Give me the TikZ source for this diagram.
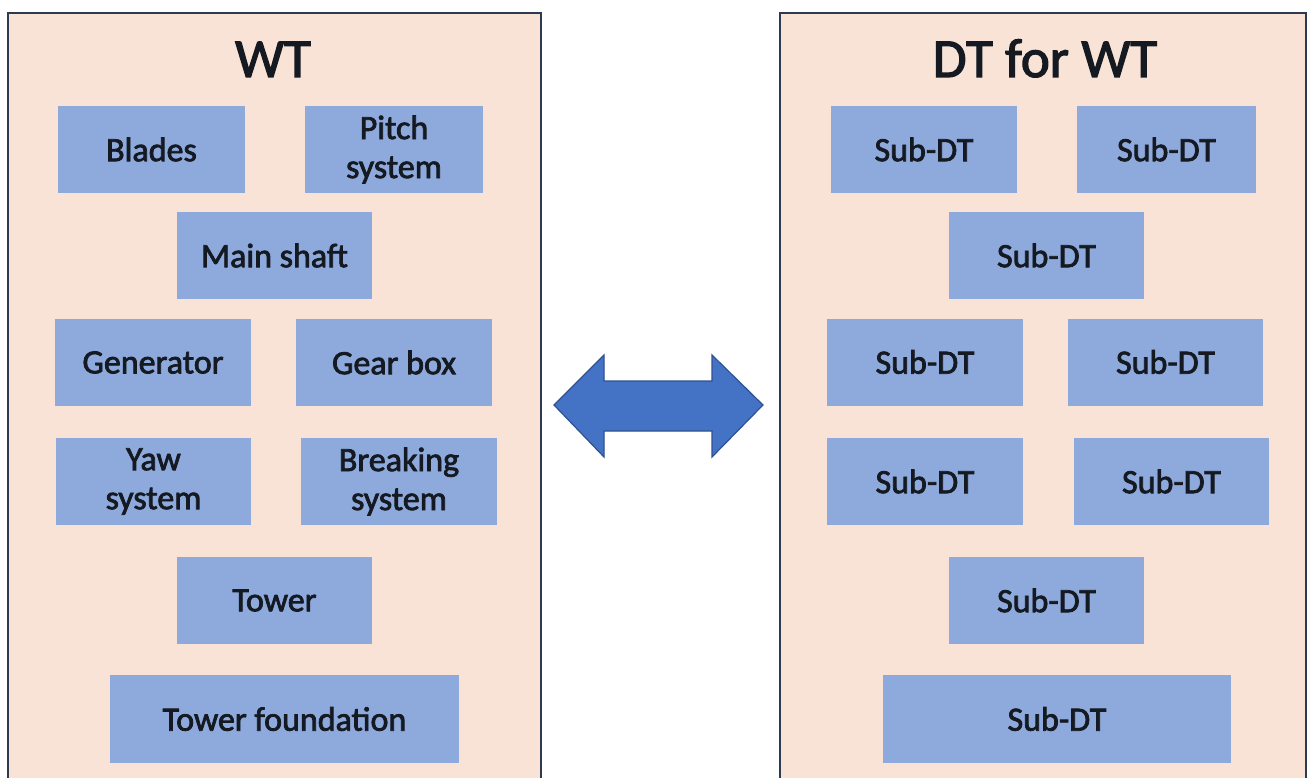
\documentclass[tikz,border=0pt]{standalone}
\usepackage{fontspec}
\setmainfont{Carlito}
\newfontfamily\labelfont{Carlito}[FakeBold=2.2]
\definecolor{panelfill}{HTML}{F8E3D6}
\definecolor{panelline}{HTML}{2E3A52}
\definecolor{boxfill}{HTML}{8EA9DB}
\definecolor{arrowfill}{HTML}{4472C4}
\definecolor{arrowline}{HTML}{2F528F}
\definecolor{ink}{HTML}{151A22}
\tikzset{
  panel/.style={fill=panelfill, draw=panelline, line width=1.6pt},
  part/.style={fill=boxfill, draw=none, rectangle, inner sep=0pt,
    minimum height=87pt, text=ink, align=center,
    font=\labelfont\fontsize{34}{39}\selectfont},
  heading/.style={anchor=base, text=ink, inner sep=0pt,
    font=\labelfont\fontsize{55}{60}\selectfont},
  bigarrow/.style={fill=arrowfill, draw=arrowline, line width=1.2pt, line join=miter}
}
\begin{document}
\begin{tikzpicture}[x=1pt, y=-1pt]
  \clip (0,0) rectangle (1312,778);
  \fill[white] (0,0) rectangle (1312,778);

  % the two panels, running off the bottom edge
  \draw[panel] (8,13) rectangle (541,800);
  \draw[panel] (780,13) rectangle (1306,800);

  \node[heading] (wt) at (273,77) {WT};
  \node[heading] (dt) at (1045,77) {DT for WT};

  % wind turbine components
  \node[part, minimum width=187pt] (blades) at (151.5,149.5) {Blades};
  \node[part, minimum width=178pt] (pitch)  at (394,149.5) {Pitch\\system};
  \node[part, minimum width=195pt] (shaft)  at (274.5,255.5) {Main shaft};
  \node[part, minimum width=196pt] (gen)    at (153,362.5) {Generator};
  \node[part, minimum width=196pt] (gear)   at (394,362.5) {Gear box};
  \node[part, minimum width=195pt] (yaw)    at (153.5,481.5) {Yaw\\system};
  \node[part, minimum width=196pt] (brake)  at (399,481.5) {Breaking\\system};
  \node[part, minimum width=195pt] (tower)  at (274.5,600.5) {Tower};
  \node[part, minimum width=349pt, minimum height=88pt] (found) at (284.5,719) {Tower foundation};

  % matching sub-twins
  \node[part, minimum width=186pt] (s1) at (924,149.5) {Sub-DT};
  \node[part, minimum width=179pt] (s2) at (1166.5,149.5) {Sub-DT};
  \node[part, minimum width=195pt] (s3) at (1046.5,255.5) {Sub-DT};
  \node[part, minimum width=196pt] (s4) at (925,362) {Sub-DT};
  \node[part, minimum width=195pt] (s5) at (1165.5,362) {Sub-DT};
  \node[part, minimum width=196pt] (s6) at (925,481.5) {Sub-DT};
  \node[part, minimum width=195pt] (s7) at (1171.5,481.5) {Sub-DT};
  \node[part, minimum width=195pt] (s8) at (1046.5,600.5) {Sub-DT};
  \node[part, minimum width=348pt, minimum height=88pt] (s9) at (1057,719) {Sub-DT};

  % two-headed block arrow between the panels
  \draw[bigarrow] (554,405) -- (604,355) -- (604,381) -- (712,381) -- (712,355)
    -- (763,405) -- (712,457) -- (712,431) -- (604,431) -- (604,457) -- cycle;
\end{tikzpicture}
\end{document}
